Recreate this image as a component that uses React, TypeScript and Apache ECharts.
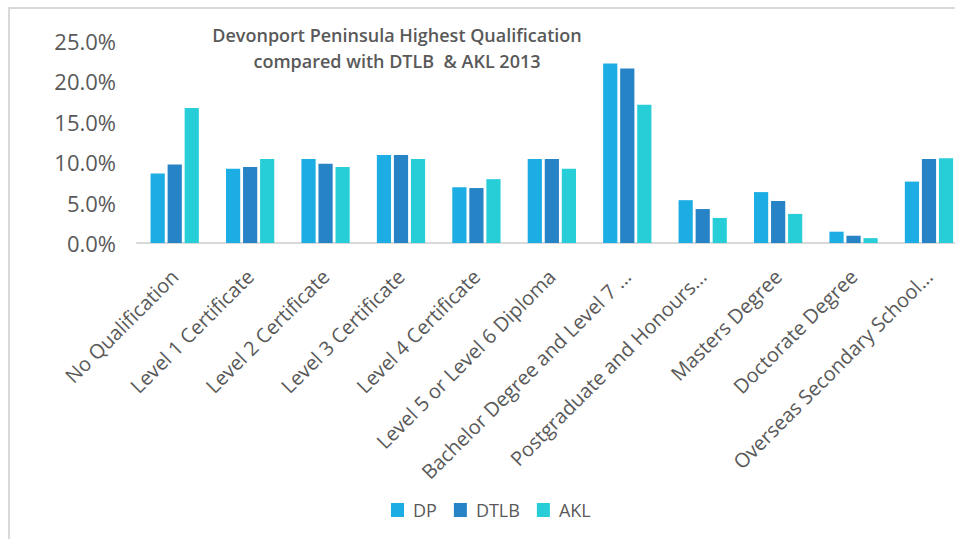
import React, { useEffect, useRef } from "react";
import * as echarts from "echarts";

const categories = [
  "No Qualification",
  "Level 1 Certificate",
  "Level 2 Certificate",
  "Level 3 Certificate",
  "Level 4 Certificate",
  "Level 5 or Level 6 Diploma",
  "Bachelor Degree and Level 7 ...",
  "Postgraduate and Honours...",
  "Masters Degree",
  "Doctorate Degree",
  "Overseas Secondary School...",
];
const dpValues = [8.6, 9.2, 10.4, 10.9, 6.9, 10.4, 22.2, 5.3, 6.3, 1.4, 7.6];
const dtlbValues = [9.7, 9.4, 9.8, 10.9, 6.8, 10.4, 21.6, 4.2, 5.2, 0.9, 10.4];
const aklValues = [16.7, 10.4, 9.4, 10.4, 7.9, 9.2, 17.1, 3.1, 3.6, 0.6, 10.5];
const seriesNames = ["DP", "DTLB", "AKL"];
const colors = ["#1CADE4", "#2683C6", "#27CED7"];
const titleLines = [
  "Devonport Peninsula Highest Qualification",
  "compared with DTLB  & AKL 2013",
];

const FONT = "'Open Sans', 'Liberation Sans', sans-serif";

export default function App() {
  const ref = useRef<HTMLDivElement>(null);
  useEffect(() => {
    if (!ref.current) return;
    const chart = echarts.init(ref.current, undefined, { renderer: "svg" });
    const values = [dpValues, dtlbValues, aklValues];
    chart.setOption({
      animation: false,
      backgroundColor: "#ffffff",
      color: colors,
      textStyle: { fontFamily: FONT },
      title: {
        text: titleLines.join("\n"),
        left: 392,
        top: 17,
        textAlign: "center",
        textStyle: {
          fontFamily: FONT,
          fontSize: 18,
          fontWeight: 600,
          color: "#595959",
          lineHeight: 26,
        },
      },
      graphic: [
        {
          type: "rect",
          shape: { x: 9, y: 8, width: 1000, height: 600 },
          style: { fill: "none", stroke: "#d9d9d9", lineWidth: 2 },
          silent: true,
        },
      ],
      legend: {
        data: seriesNames,
        left: 386,
        top: 496,
        itemWidth: 13,
        itemHeight: 14,
        itemGap: 17,
        icon: "rect",
        textStyle: {
          fontFamily: FONT,
          fontSize: 18,
          color: "#595959",
          padding: [0, 0, 0, 4],
        },
      },
      grid: { left: 137, right: 8.3, top: 41, bottom: 296, containLabel: false },
      xAxis: {
        type: "category",
        data: categories,
        axisLine: { lineStyle: { color: "#d9d9d9", width: 2 } },
        axisTick: { show: false },
        axisLabel: {
          interval: 0,
          rotate: 45,
          margin: 30,
          fontFamily: FONT,
          fontSize: 20,
          color: "#595959",
        },
      },
      yAxis: {
        type: "value",
        min: 0,
        max: 25,
        interval: 5,
        axisLine: { show: false },
        axisTick: { show: false },
        splitLine: { show: false },
        axisLabel: {
          margin: 21,
          fontFamily: FONT,
          fontSize: 22,
          color: "#595959",
          formatter: (v: number) => v.toFixed(1) + "%",
        },
      },
      series: seriesNames.map((name, i) => ({
        name,
        type: "bar",
        data: values[i],
        barGap: "20%",
        barCategoryGap: "36%",
        itemStyle: { color: colors[i] },
      })),
    });
    return () => chart.dispose();
  }, []);
  return (
    <div
      style={{
        position: "fixed",
        left: 0,
        top: 0,
        width: 955,
        height: 539,
        overflow: "hidden",
        background: "#fff",
      }}
    >
      <div ref={ref} style={{ width: 975, height: 539 }} />
    </div>
  );
}
